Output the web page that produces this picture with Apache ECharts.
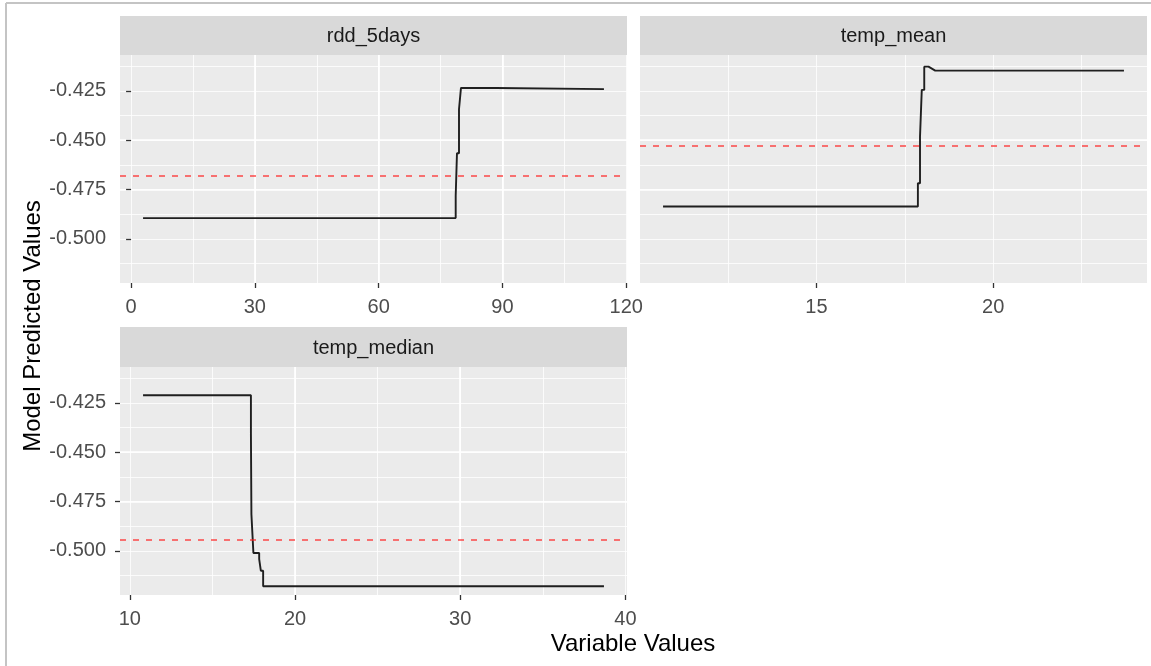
<!DOCTYPE html>
<html>
<head>
<meta charset="utf-8">
<script src="https://cdn.jsdelivr.net/npm/echarts@6/dist/echarts.min.js"></script>
<style>
html,body{margin:0;padding:0;background:#ffffff;}
#chart{width:1151px;height:666px;}
</style>
</head>
<body>
<div id="chart"></div>
<script>
// ---------------- data ----------------
const panelNames = ['rdd_5days', 'temp_mean', 'temp_median'];

const rddX = [2.9, 78.67, 78.67, 78.98, 78.98, 79.47, 79.47, 79.95, 79.95, 88.36, 88.6, 114.6];
const rddY = [-0.4895, -0.4895, -0.4782, -0.4782, -0.4566, -0.4566, -0.4343, -0.4343, -0.4235, -0.4235, -0.4241, -0.4241];

const meanX = [10.66, 17.87, 17.87, 17.93, 17.93, 17.98, 17.98, 18.05, 18.05, 18.17, 18.36, 23.70];
const meanY = [-0.4836, -0.4836, -0.4718, -0.4718, -0.4482, -0.4482, -0.4245, -0.4245, -0.4127, -0.4127, -0.4147, -0.4147];

const medianX = [10.8, 17.33, 17.33, 17.36, 17.36, 17.48, 17.48, 17.83, 17.83, 17.93, 17.93, 18.07, 18.07, 38.7];
const medianY = [-0.4211, -0.4211, -0.4405, -0.4405, -0.4815, -0.4815, -0.5011, -0.5011, -0.5042, -0.5042, -0.5101, -0.5101, -0.5180, -0.5180];

const hlineValues = [-0.4682, -0.4530, -0.4946];

const xTickValues = [[0, 30, 60, 90, 120], [15, 20], [10, 20, 30, 40]];
const xMajorStep = [30, 5, 10];
const yTickValues = [-0.500, -0.475, -0.450, -0.425];
const yMajorStep = 0.025;
const yLimits = [-0.5224, -0.4068];

const xTitle = 'Variable Values';
const yTitle = 'Model Predicted Values';

// ---------------- layout / style ----------------
const FONT = '"Liberation Sans", Arial, Helvetica, sans-serif';
const panels = [
  {left: 120, top: 55, width: 507, height: 228, stripTop: 16, showY: true},
  {left: 640, top: 55, width: 507, height: 228, stripTop: 16, showY: false},
  {left: 120, top: 367, width: 507, height: 228, stripTop: 327, showY: true}
];
const seriesX = [rddX, meanX, medianX];
const seriesY = [rddY, meanY, medianY];

function expand(arr) {
  const mn = Math.min.apply(null, arr), mx = Math.max.apply(null, arr);
  const r = mx - mn;
  return [mn - 0.05 * r, mx + 0.05 * r];
}

const grids = [], xAxes = [], yAxes = [], series = [], graphics = [];

panels.forEach((p, i) => {
  grids.push({
    left: p.left, top: p.top, width: p.width, height: p.height,
    show: true, backgroundColor: '#EBEBEB', borderWidth: 0,
    containLabel: false, outerBoundsMode: 'none'
  });
  const xe = expand(seriesX[i]);
  const step = xMajorStep[i];
  xAxes.push({
    type: 'value', gridIndex: i, min: xe[0], max: xe[1],
    minInterval: step, maxInterval: step, position: 'bottom',
    axisLine: {show: false},
    axisTick: {show: true, customValues: xTickValues[i], length: 5, lineStyle: {color: '#333333', width: 1.3}},
    axisLabel: {show: true, customValues: xTickValues[i], margin: 14, color: '#4D4D4D', fontSize: 20, fontFamily: FONT,
      formatter: v => String(Math.round(v * 1000) / 1000)},
    splitLine: {show: true, showMinLine: false, showMaxLine: false, lineStyle: {color: '#FFFFFF', width: 1.7}}
  });
  xAxes.push({
    type: 'value', gridIndex: i, min: xe[0], max: xe[1],
    minInterval: step / 2, maxInterval: step / 2, position: 'top',
    axisLine: {show: false}, axisTick: {show: false}, axisLabel: {show: false},
    splitLine: {show: true, showMinLine: false, showMaxLine: false, lineStyle: {color: '#FFFFFF', width: 0.8}}
  });
  yAxes.push({
    type: 'value', gridIndex: i, min: yLimits[0], max: yLimits[1],
    minInterval: yMajorStep, maxInterval: yMajorStep, position: 'left',
    axisLine: {show: false},
    axisTick: {show: p.showY, customValues: yTickValues, length: 5, lineStyle: {color: '#333333', width: 1.3}},
    axisLabel: {show: p.showY, customValues: yTickValues, margin: 14, color: '#4D4D4D', fontSize: 20, fontFamily: FONT,
      formatter: v => v.toFixed(3)},
    splitLine: {show: true, showMinLine: false, showMaxLine: false, lineStyle: {color: '#FFFFFF', width: 1.7}}
  });
  yAxes.push({
    type: 'value', gridIndex: i, min: yLimits[0], max: yLimits[1],
    minInterval: yMajorStep / 2, maxInterval: yMajorStep / 2, position: 'right',
    axisLine: {show: false}, axisTick: {show: false}, axisLabel: {show: false},
    splitLine: {show: true, showMinLine: false, showMaxLine: false, lineStyle: {color: '#FFFFFF', width: 0.8}}
  });
  series.push({
    type: 'line', name: panelNames[i], xAxisIndex: 2 * i, yAxisIndex: 2 * i,
    data: seriesX[i].map((x, k) => [x, seriesY[i][k]]),
    symbol: 'none', showSymbol: false, silent: true,
    lineStyle: {color: '#1F1F1F', width: 1.9},
    z: 3,
    markLine: {
      silent: true, symbol: 'none', precision: 6, label: {show: false}, z: 4,
      lineStyle: {color: 'rgba(255,30,30,0.6)', type: [6, 7], width: 2},
      data: [{yAxis: hlineValues[i]}]
    }
  });
  const stripH = p.top - p.stripTop;
  graphics.push({
    type: 'rect', silent: true,
    shape: {x: p.left, y: p.stripTop, width: p.width, height: stripH},
    style: {fill: '#D9D9D9'}
  });
  graphics.push({
    type: 'text', silent: true, x: p.left + p.width / 2, y: p.stripTop + stripH / 2 + 1,
    style: {text: panelNames[i], fill: '#1A1A1A', font: '20px ' + FONT, align: 'center', verticalAlign: 'middle'}
  });
});

graphics.push({type: 'line', silent: true, shape: {x1: 6, y1: 3, x2: 1151, y2: 3}, style: {stroke: '#C4C4C4', lineWidth: 2}});
graphics.push({type: 'line', silent: true, shape: {x1: 6, y1: 3, x2: 6, y2: 666}, style: {stroke: '#C4C4C4', lineWidth: 2}});

graphics.push({
  type: 'text', silent: true, x: 633, y: 644,
  style: {text: xTitle, fill: '#000000', font: '24px ' + FONT, align: 'center', verticalAlign: 'middle'}
});
graphics.push({
  type: 'text', silent: true, x: 33, y: 326, rotation: Math.PI / 2,
  style: {text: yTitle, fill: '#000000', font: '24px ' + FONT, align: 'center', verticalAlign: 'middle'}
});

const chart = echarts.init(document.getElementById('chart'), null, {renderer: 'canvas'});
chart.setOption({
  animation: false,
  backgroundColor: '#FFFFFF',
  grid: grids,
  xAxis: xAxes,
  yAxis: yAxes,
  series: series,
  graphic: graphics
});
</script>
</body>
</html>
